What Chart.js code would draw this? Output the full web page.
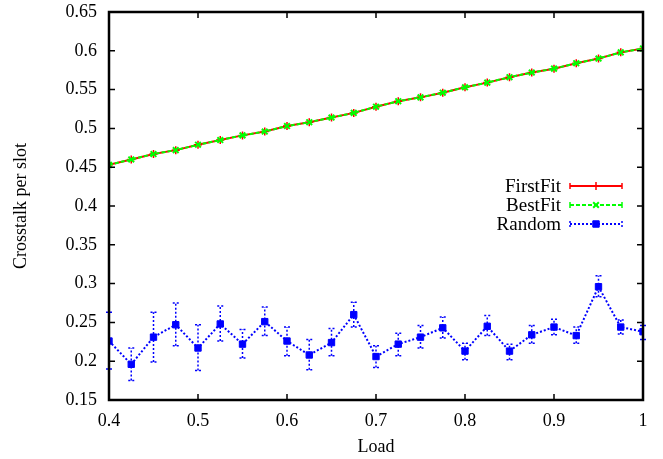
<!DOCTYPE html>
<html>
<head>
<meta charset="utf-8">
<script src="https://cdn.jsdelivr.net/npm/chart.js@4.4.1/dist/chart.umd.min.js"></script>
<style>
  html, body { margin: 0; padding: 0; background: #fff; }
  #wrap { width: 663px; height: 459px; }
</style>
</head>
<body>
<div id="wrap"><canvas id="myChart" width="663" height="459"></canvas></div>
<script>
var loads = [0.4, 0.425, 0.45, 0.475, 0.5, 0.525, 0.55, 0.575, 0.6, 0.625, 0.65, 0.675,
    0.7, 0.725, 0.75, 0.775, 0.8, 0.825, 0.85, 0.875, 0.9, 0.925, 0.95, 0.975, 1.0];

var firstFit = [0.453, 0.460, 0.467, 0.472, 0.479, 0.485, 0.491, 0.496, 0.503, 0.508, 0.514, 0.520,
    0.528, 0.535, 0.540, 0.546, 0.553, 0.559, 0.566, 0.572, 0.577, 0.584, 0.590, 0.598, 0.603];

var bestFit = [0.453, 0.460, 0.467, 0.472, 0.479, 0.485, 0.491, 0.496, 0.503, 0.508, 0.514, 0.520,
    0.528, 0.535, 0.540, 0.546, 0.553, 0.559, 0.566, 0.572, 0.577, 0.584, 0.590, 0.598, 0.603];

var random = [0.226, 0.196, 0.231, 0.247, 0.217, 0.248, 0.222, 0.251, 0.226, 0.208, 0.224, 0.260,
    0.206, 0.222, 0.231, 0.243, 0.213, 0.245, 0.213, 0.234, 0.244, 0.233, 0.296, 0.244, 0.238];
var randomLow = [0.190, 0.175, 0.199, 0.220, 0.188, 0.226, 0.204, 0.233, 0.207, 0.189, 0.207, 0.244,
    0.192, 0.207, 0.217, 0.230, 0.202, 0.233, 0.202, 0.223, 0.234, 0.223, 0.283, 0.235, 0.228];
var randomHigh = [0.263, 0.217, 0.263, 0.275, 0.247, 0.271, 0.241, 0.270, 0.244, 0.228, 0.242, 0.276,
    0.220, 0.236, 0.246, 0.257, 0.223, 0.259, 0.222, 0.246, 0.254, 0.244, 0.310, 0.253, 0.246];

var xTicks = [0.4, 0.5, 0.6, 0.7, 0.8, 0.9, 1];
var yTicks = [0.15, 0.2, 0.25, 0.3, 0.35, 0.4, 0.45, 0.5, 0.55, 0.6, 0.65];

var FONT = "'Liberation Serif', 'Times New Roman', serif";

function points(ys) {
    return loads.map(function(x, i) { return { x: x, y: ys[i] }; });
}

function plainNumber(v) {
    return String(+Number(v).toFixed(2));
}

// gnuplot-like frame with inward ticks on all four sides
var framePlugin = {
    id: 'frame',
    afterDraw: function(chart) {
        var ctx = chart.ctx, a = chart.chartArea;
        var xs = chart.scales.x, ys = chart.scales.y;
        var len = 6;
        ctx.save();
        ctx.strokeStyle = '#000';
        ctx.lineWidth = 1.5;
        ctx.beginPath();
        xTicks.forEach(function(v) {
            var px = xs.getPixelForValue(v);
            ctx.moveTo(px, a.bottom); ctx.lineTo(px, a.bottom - len);
            ctx.moveTo(px, a.top); ctx.lineTo(px, a.top + len);
        });
        yTicks.forEach(function(v) {
            var py = ys.getPixelForValue(v);
            ctx.moveTo(a.left, py); ctx.lineTo(a.left + len, py);
            ctx.moveTo(a.right, py); ctx.lineTo(a.right - len, py);
        });
        ctx.stroke();
        ctx.lineWidth = 2.5;
        ctx.strokeRect(a.left, a.top, a.right - a.left, a.bottom - a.top);
        ctx.restore();
    }
};

// error bars for the Random series
var errorPlugin = {
    id: 'errors',
    afterDatasetsDraw: function(chart) {
        var ctx = chart.ctx;
        var xs = chart.scales.x, ys = chart.scales.y;
        ctx.save();
        ctx.strokeStyle = 'rgb(0,0,255)';
        ctx.lineWidth = 1.5;
        ctx.setLineDash([2, 2]);
        loads.forEach(function(x, i) {
            var px = xs.getPixelForValue(x);
            var lo = ys.getPixelForValue(randomLow[i]);
            var hi = ys.getPixelForValue(randomHigh[i]);
            ctx.beginPath();
            ctx.moveTo(px, lo); ctx.lineTo(px, hi);
            ctx.moveTo(px - 3, lo); ctx.lineTo(px + 3, lo);
            ctx.moveTo(px - 3, hi); ctx.lineTo(px + 3, hi);
            ctx.stroke();
        });
        ctx.restore();
    }
};

// legend drawn like the gnuplot key
var keyPlugin = {
    id: 'key',
    afterDraw: function(chart) {
        var ctx = chart.ctx;
        var rows = [186, 205, 224];
        var x0 = 570, x1 = 622, tx = 561;
        ctx.save();
        ctx.font = '19px ' + FONT;
        ctx.textAlign = 'right';
        ctx.textBaseline = 'middle';
        chart.data.datasets.forEach(function(ds, i) {
            var y = rows[i];
            ctx.fillStyle = '#000';
            ctx.fillText(ds.label, tx, y + 1);
            ctx.strokeStyle = ds.borderColor;
            ctx.fillStyle = ds.backgroundColor;
            ctx.lineWidth = ds.borderWidth;
            ctx.setLineDash(ds.borderDash || []);
            ctx.beginPath();
            ctx.moveTo(x0, y); ctx.lineTo(x1, y);
            ctx.stroke();
            ctx.setLineDash(i === 2 ? [2, 2] : []);
            ctx.lineWidth = 1.5;
            ctx.beginPath();
            ctx.moveTo(x0, y - 3); ctx.lineTo(x0, y + 3);
            ctx.moveTo(x1, y - 3); ctx.lineTo(x1, y + 3);
            ctx.stroke();
            ctx.setLineDash([]);
            ctx.lineWidth = ds.pointBorderWidth;
            Chart.helpers.drawPoint(ctx, {
                pointStyle: ds.pointStyle,
                radius: ds.pointRadius,
                borderWidth: ds.pointBorderWidth
            }, (x0 + x1) / 2, y);
            if (ds.pointStyle !== 'cross' && ds.pointStyle !== 'crossRot') ctx.fill();
        });
        ctx.restore();
    }
};

var config = {
    type: 'line',
    data: {
        datasets: [{
            label: 'FirstFit',
            data: points(firstFit),
            borderColor: 'rgb(255,0,0)',
            backgroundColor: 'rgb(255,0,0)',
            borderWidth: 2,
            pointStyle: 'cross',
            pointRadius: 4,
            pointBorderWidth: 1.5,
            order: 3
        }, {
            label: 'BestFit',
            data: points(bestFit),
            borderColor: 'rgb(0,255,0)',
            backgroundColor: 'rgb(0,255,0)',
            borderWidth: 2,
            borderDash: [4, 2],
            pointStyle: 'crossRot',
            pointRadius: 4,
            pointBorderWidth: 2,
            order: 2
        }, {
            label: 'Random',
            data: points(random),
            borderColor: 'rgb(0,0,255)',
            backgroundColor: 'rgb(0,0,255)',
            borderWidth: 2,
            borderDash: [2, 2],
            pointStyle: 'rect',
            pointRadius: 4.5,
            pointBorderWidth: 1,
            order: 1
        }]
    },
    options: {
        responsive: false,
        animation: false,
        events: [],
        layout: { padding: { top: 12, right: 20, left: 0, bottom: 0 } },
        elements: { line: { tension: 0, fill: false } },
        scales: {
            x: {
                type: 'linear',
                min: 0.4,
                max: 1,
                grid: { display: false, drawTicks: false },
                border: { display: false },
                afterFit: function(scale) {
                    scale.height = 59;
                    scale.paddingLeft = 0;
                    scale.paddingRight = 0;
                },
                afterBuildTicks: function(scale) {
                    scale.ticks = xTicks.map(function(v) { return { value: v }; });
                },
                ticks: {
                    color: '#000',
                    padding: 10,
                    maxRotation: 0,
                    font: { family: FONT, size: 18 },
                    callback: plainNumber
                },
                title: {
                    display: true,
                    text: 'Load',
                    color: '#000',
                    padding: { top: 0, bottom: 1 },
                    font: { family: FONT, size: 18 }
                }
            },
            y: {
                type: 'linear',
                min: 0.15,
                max: 0.65,
                grid: { display: false, drawTicks: false },
                border: { display: false },
                afterFit: function(scale) {
                    scale.width = 109;
                    scale.paddingTop = 0;
                    scale.paddingBottom = 0;
                },
                afterBuildTicks: function(scale) {
                    scale.ticks = yTicks.map(function(v) { return { value: v }; });
                },
                ticks: {
                    color: '#000',
                    padding: 12,
                    font: { family: FONT, size: 18 },
                    callback: plainNumber
                },
                title: {
                    display: true,
                    text: 'Crosstalk per slot',
                    color: '#000',
                    padding: { top: 10, bottom: 0 },
                    font: { family: FONT, size: 18 }
                }
            }
        },
        plugins: {
            legend: { display: false },
            tooltip: { enabled: false }
        }
    },
    plugins: [framePlugin, errorPlugin, keyPlugin]
};

window.onload = function() {
    var ctx = document.getElementById('myChart').getContext('2d');
    window.myChart = new Chart(ctx, config);
};
</script>
</body>
</html>
